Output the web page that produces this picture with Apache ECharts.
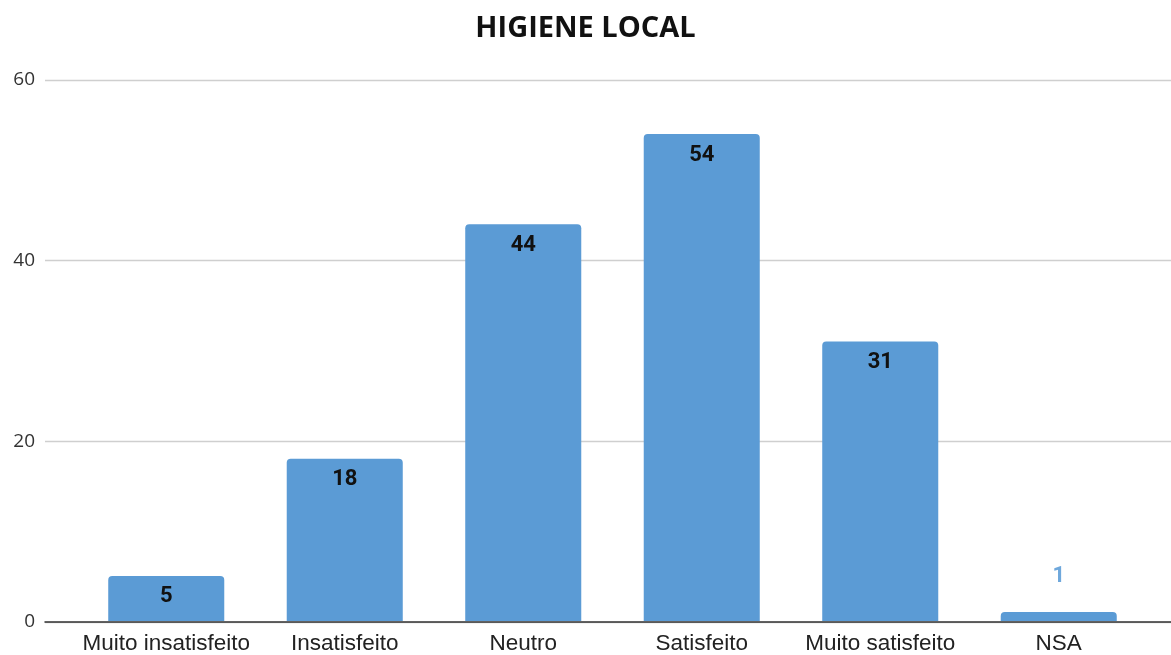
<!DOCTYPE html>
<html>
<head>
<meta charset="utf-8">
<script src="https://cdn.jsdelivr.net/npm/echarts@6/dist/echarts.min.js"></script>
<style>
  html, body { margin: 0; padding: 0; background: #fff; }
  #chart { width: 1171px; height: 655px; }
</style>
</head>
<body>
<div id="chart"></div>
<script>
const titleText = 'HIGIENE LOCAL';
const categories = ['Muito insatisfeito', 'Insatisfeito', 'Neutro', 'Satisfeito', 'Muito satisfeito', 'NSA'];
const counts = [5, 18, 44, 54, 31, 1];
const yTicks = [0, 20, 40, 60];

const barColor = '#5b9bd5';
const yMax = yTicks[yTicks.length - 1];
const yStep = yTicks[1] - yTicks[0];

// Short bars carry their value above the bar in the bar colour
const barData = counts.map(v => {
  if (v < 3) {
    return {
      value: v,
      label: { position: 'top', color: '#6fa8dc', distance: 24 }
    };
  }
  return v;
});

const chart = echarts.init(document.getElementById('chart'));
chart.setOption({
  backgroundColor: '#fff',
  animation: false,
  title: {
    text: titleText,
    left: 'center',
    top: 9,
    textStyle: { fontFamily: 'Open Sans', fontWeight: 'bold', fontSize: 29, color: '#111' }
  },
  grid: [
    // full-width grid: gridlines, value labels and baseline
    { left: 45, right: 0, top: 80, bottom: 33 },
    // bar area
    { left: 77, right: 23, top: 80, bottom: 33 }
  ],
  xAxis: [
    {
      gridIndex: 0, type: 'value', min: 0, max: 1,
      axisLine: { show: true, onZero: false, lineStyle: { color: '#333', width: 1.5 } },
      axisTick: { show: false }, axisLabel: { show: false }, splitLine: { show: false }
    },
    {
      gridIndex: 1, type: 'category', data: categories,
      axisLine: { show: false }, axisTick: { show: false },
      axisLabel: { fontFamily: 'Liberation Sans', fontSize: 22.5, color: '#222', margin: 11, interval: 0 }
    }
  ],
  yAxis: [
    {
      gridIndex: 0, type: 'value', min: 0, max: yMax, interval: yStep,
      axisLine: { show: false }, axisTick: { show: false },
      axisLabel: { fontFamily: 'Open Sans', fontSize: 19, color: '#333', margin: 10 },
      splitLine: { lineStyle: { color: '#cfcfcf', width: 1.3 } }
    },
    {
      gridIndex: 1, type: 'value', min: 0, max: yMax, interval: yStep,
      show: false, splitLine: { show: false }
    }
  ],
  series: [
    {
      type: 'bar',
      xAxisIndex: 1, yAxisIndex: 1,
      data: barData,
      barWidth: '65%',
      itemStyle: { color: barColor, borderRadius: [4, 4, 0, 0] },
      label: {
        show: true,
        position: 'insideTop',
        distance: 10,
        fontFamily: 'Roboto',
        fontWeight: 'bold',
        fontSize: 22,
        color: '#111'
      },
      z: 3
    }
  ]
});
</script>
</body>
</html>
